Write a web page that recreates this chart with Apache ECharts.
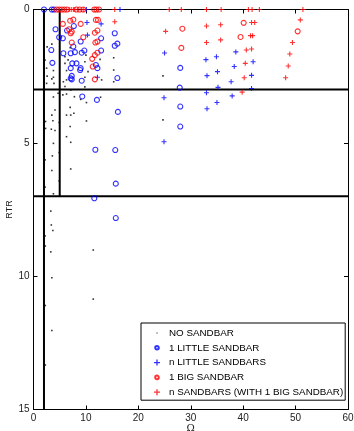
<!DOCTYPE html>
<html>
<head>
<meta charset="utf-8">
<script src="https://cdn.jsdelivr.net/npm/echarts@6/dist/echarts.min.js"></script>
<style>
html,body{margin:0;padding:0;background:#fff;}
#c{width:354px;height:431px;}
</style>
</head>
<body>
<div id="c"></div>
<script>
// ---- data ----
var xTicks = [0, 10, 20, 30, 40, 50, 60];
var yTicks = [0, 5, 10, 15];
var seriesNames = ['NO SANDBAR', '1 LITTLE SANDBAR', 'n LITTLE SANDBARS', '1 BIG SANDBAR', 'n SANDBARS (WITH 1 BIG SANDBAR)'];

var noSandbar = [
  [2.6,1.4],[3.5,1.3],[2.5,2.2],[2.6,2.5],[3.8,2.29],[3.8,2.54],[3.9,2.77],[2.5,2.77],[2.2,1.9],[3.5,2.6],
  [6.3,2.29],[5.7,2.71],[6.3,2.64],[6.6,1.89],[6.0,2.02],[6.0,1.77],[7.0,1.43],[9.8,1.96],[9.8,2.54],[9.8,2.9],
  [10.4,2.33],[10.0,1.71],[12.7,1.87],[13.0,2.64],[7.1,3.02],[6.0,2.89],[4.7,3.14],[15.3,1.81],[15.3,2.27],[15.3,2.71],
  [24.7,2.49],[24.7,4.14],
  [3.8,3.28],[5.6,3.2],[6.3,3.17],[7.8,3.27],[9.0,3.37],[10.1,3.49],[12.8,3.29],[4.1,3.77],[7.0,3.67],[7.7,3.89],
  [6.3,3.96],[7.1,3.96],[3.5,3.96],[3.7,4.17],[2.3,4.2],[4.9,4.24],[10.1,4.18],[7.0,4.39],[2.3,4.46],[3.4,4.49],
  [4.1,4.54],[6.3,4.77],[3.8,5.02],[7.1,4.98],[4.9,5.36],[3.6,5.49],[2.2,5.64],[3.5,6.04],[7.1,5.98],[4.9,6.43],
  [2.2,6.66],[3.8,6.91],
  [3.3,7.56],[3.4,8.08],[3.7,8.29],[2.2,8.49],[2.25,8.87],[3.3,9.09],[11.4,9.02],[3.5,10.06],[11.4,10.86],[2.25,11.1],
  [3.5,12.04],[2.25,13.33]
];
var littleOne = [
  [2.0,0],[3.5,0],[3.9,0],
  [4.2,0.74],[7.7,0.62],[6.4,0.79],[4.9,1.04],[5.6,1.08],[7.6,1.39],[3.4,1.52],[5.7,1.64],[7.1,1.64],[3.6,2.0],
  [7.4,2.02],[7.1,2.2],[7.1,2.58],[7.3,2.49],[7.3,2.62],
  [9.0,1.2],[12.9,1.08],[7.9,1.6],[9.2,1.62],[9.7,1.54],[12.9,1.54],[8.2,2.02],[11.9,2.08],[12.2,2.2],[8.9,2.27],
  [9.0,2.2],[9.2,2.67],
  [15.5,0.89],[15.5,1.36],[16.0,1.28],[16.0,2.57],[28.0,2.19],[27.9,2.93],[28.0,3.64],[16.1,3.84],[28.0,4.39],
  [15.6,5.27],[15.7,6.53],[9.3,3.26],[12.1,3.39],[11.8,5.26],[11.6,7.08],[15.7,7.82]
];
var littleMany = [
  [16.5,0],[10.1,0],[10.2,0.49],[12.9,0.54],[10.3,0.96],[12.2,2.54],
  [25.0,1.63],[24.9,3.31],[24.9,4.96],[32.9,1.88],[34.9,1.77],[38.6,1.59],[33.1,2.48],[35.1,2.33],[38.3,2.14],
  [33.0,3.12],[35.2,2.92],[37.7,2.71],[35.0,3.49],[33.1,3.72],[37.9,3.24],[41.9,1.96],[41.6,2.47],[41.6,2.96]
];
var bigOne = [
  [4.4,0],[4.9,0],[5.4,0],[5.9,0],[6.4,0],[8.2,0],[8.8,0],[9.5,0],[11.6,0],[12.0,0],[12.5,0],
  [5.6,0.54],[7.0,0.42],[7.6,0.38],[6.8,0.74],[7.3,0.83],[7.1,0.89],[7.3,1.24],[9.0,0.54],[11.9,0.39],[12.3,0.39],
  [9.5,1.04],[11.7,0.87],[12.2,0.79],[11.8,1.24],[12.2,1.2],[11.7,1.71],[12.2,1.62],[11.2,1.85],[11.3,2.14],[11.7,2.62],
  [28.4,0.72],[28.2,1.44],[40.1,0.5],[39.5,1.03],[50.4,0.82]
];
var manyBig = [
  [6.8,0],[7.2,0],[7.6,0],[7.9,0],[9.6,0],[15.5,0],[25.9,0],[28.2,0],[33.0,0],[35.8,0],[41.0,0],[41.7,0],[43.1,0],[51.4,0],
  [15.5,0.46],[25.2,0.82],[33.0,0.62],[35.7,0.57],[33.0,1.24],[35.7,1.14],[41.6,0.49],[42.2,0.49],[41.4,0.98],[41.8,0.98],
  [40.6,1.52],[41.6,1.48],[40.4,2.02],[40.2,2.56],[39.8,3.1],[50.9,0.39],[49.4,1.24],[48.9,1.67],[48.6,2.12],[48.1,2.56]
];
// region boundary lines: [x0,y0,x1,y1]
var boundaryLines = [
  [0,3,60,3],
  [0,7,60,7],
  [2,0,2,15],
  [5,0,5,7]
];

// ---- chart ----
var plusPath = 'path://M-1,-0.22L-0.22,-0.22L-0.22,-1L0.22,-1L0.22,-0.22L1,-0.22L1,0.22L0.22,0.22L0.22,1L-0.22,1L-0.22,0.22L-1,0.22Z';
var dotIcon = 'path://M0,0M10,10M4,4L6,4L6,6L4,6Z';
var circIcon = 'path://M0,0M10,10M5,2A3,3,0,1,1,4.99,2Z';

var chart = echarts.init(document.getElementById('c'), null, {renderer: 'canvas'});
var font = 'Liberation Sans, Arial, Helvetica, sans-serif';

function axisCommon(extra) {
  var o = {
    type: 'value',
    axisLine: {show: true, onZero: false, lineStyle: {color: '#000', width: 1}},
    axisTick: {show: true, inside: true, length: 4, lineStyle: {color: '#000'}},
    splitLine: {show: false},
    axisLabel: {color: '#222', fontSize: 10, fontFamily: font}
  };
  for (var k in extra) o[k] = extra[k];
  return o;
}

var series = [];
boundaryLines.forEach(function (l) {
  series.push({
    type: 'line', xAxisIndex: 0, yAxisIndex: 0, silent: true, symbol: 'none',
    data: [[l[0], l[1]], [l[2], l[3]]],
    lineStyle: {color: '#000', width: 2}, z: 1
  });
});
series.push({
  name: seriesNames[0], type: 'scatter', data: noSandbar, symbol: 'rect', symbolSize: 1.6,
  itemStyle: {color: '#000'}, z: 3
});
series.push({
  name: seriesNames[1], type: 'scatter', data: littleOne, symbol: 'circle', symbolSize: 5,
  itemStyle: {color: 'rgba(0,0,0,0)', borderColor: '#0000ff', borderWidth: 1.1}, z: 3
});
series.push({
  name: seriesNames[2], type: 'scatter', data: littleMany, symbol: plusPath, symbolSize: 5,
  itemStyle: {color: '#0000ff'}, z: 3
});
series.push({
  name: seriesNames[3], type: 'scatter', data: bigOne, symbol: 'circle', symbolSize: 5,
  itemStyle: {color: 'rgba(0,0,0,0)', borderColor: '#ff0000', borderWidth: 1.1}, z: 3
});
series.push({
  name: seriesNames[4], type: 'scatter', data: manyBig, symbol: plusPath, symbolSize: 5,
  itemStyle: {color: '#ff0000'}, z: 3
});

chart.setOption({
  animation: false,
  backgroundColor: '#fff',
  textStyle: {fontFamily: font},
  grid: {left: 33.5, right: 6, top: 9.5, bottom: 21.5, containLabel: false, outerBoundsMode: 'none'},
  xAxis: [
    axisCommon({min: xTicks[0], max: xTicks[xTicks.length - 1], interval: 10, position: 'bottom',
      name: 'Ω', nameLocation: 'middle', nameGap: 13.5, nameMoveOverlap: false,
      nameTextStyle: {color: '#222', fontSize: 10, fontFamily: 'DejaVu Serif, serif'},
      axisLabel: {color: '#222', fontSize: 10, fontFamily: font, margin: 4}}),
    axisCommon({min: xTicks[0], max: xTicks[xTicks.length - 1], interval: 10, position: 'top',
      axisLabel: {show: false}})
  ],
  yAxis: [
    axisCommon({min: yTicks[0], max: yTicks[yTicks.length - 1], interval: 5, inverse: true, position: 'left',
      name: 'RTR', nameLocation: 'middle', nameGap: 19, nameRotate: 90, nameMoveOverlap: false,
      nameTextStyle: {color: '#222', fontSize: 9, fontFamily: font},
      axisLabel: {color: '#222', fontSize: 10, fontFamily: font, margin: 4}}),
    axisCommon({min: yTicks[0], max: yTicks[yTicks.length - 1], interval: 5, inverse: true, position: 'right',
      axisLabel: {show: false}})
  ],
  legend: {
    orient: 'vertical', left: 141, top: 323,
    backgroundColor: '#fff', borderColor: '#000', borderWidth: 1,
    padding: [5, 2, 3, 12],
    itemWidth: 6, itemHeight: 6, itemGap: 4.8,
    textStyle: {color: '#000', fontSize: 9.8, fontFamily: font, padding: [0, 0, 0, 4]},
    data: [
      {name: seriesNames[0], icon: dotIcon},
      {name: seriesNames[1], icon: circIcon},
      {name: seriesNames[2], icon: plusPath},
      {name: seriesNames[3], icon: circIcon},
      {name: seriesNames[4], icon: plusPath}
    ]
  },
  series: series
});
</script>
</body>
</html>
